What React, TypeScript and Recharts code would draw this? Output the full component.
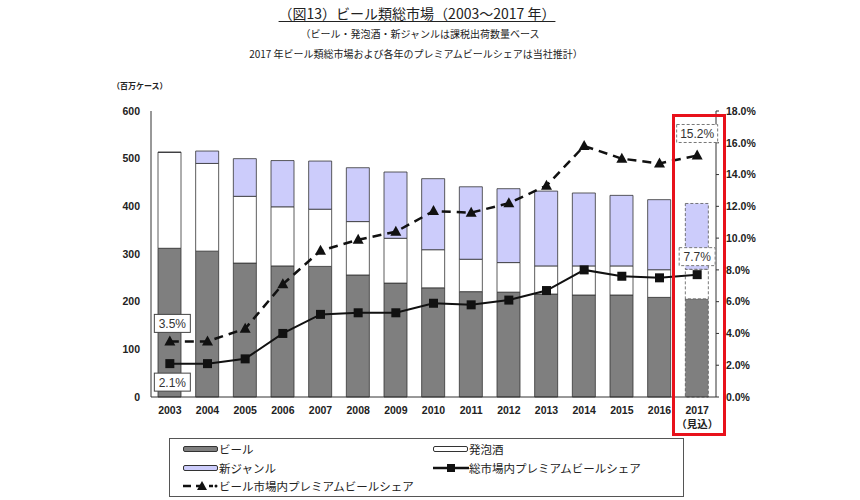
import React from 'react';
import {
  ComposedChart,
  Bar,
  Line,
  XAxis,
  YAxis,
  Cell,
  LabelList,
} from 'recharts';

const years = ['2003', '2004', '2005', '2006', '2007', '2008', '2009', '2010', '2011', '2012', '2013', '2014', '2015', '2016', '2017'];
const beer = [312, 306, 281, 275, 274, 256, 239, 229, 221, 220, 216, 214, 214, 209, 206];
const happoshu = [201, 184, 140, 124, 120, 112, 94, 80, 68, 62, 59, 61, 61, 58, 62];
const newGenre = [1, 26, 79, 97, 101, 113, 139, 149, 152, 155, 157, 153, 148, 147, 138];
const premiumTotalShare = [2.1, 2.1, 2.4, 4.0, 5.2, 5.3, 5.3, 5.9, 5.8, 6.1, 6.7, 8.0, 7.6, 7.5, 7.7];
const premiumBeerShare = [3.5, 3.5, 4.3, 7.1, 9.2, 9.9, 10.4, 11.7, 11.6, 12.2, 13.3, 15.8, 15.0, 14.7, 15.2];
const leftTicks = [0, 100, 200, 300, 400, 500, 600];
const rightTicks = [0, 2, 4, 6, 8, 10, 12, 14, 16, 18];

const data = years.map((y, i) => ({
  year: y,
  beer: beer[i],
  happoshu: happoshu[i],
  newGenre: newGenre[i],
  total: premiumTotalShare[i],
  beerShare: premiumBeerShare[i],
}));

const FONT = '"Liberation Sans", Arial, "Noto Sans CJK JP", sans-serif';
const JP = '"Noto Sans CJK JP", "Liberation Sans", sans-serif';
const LAST = years.length - 1;

const BeerTick = (props: any) => {
  const { x, y, payload } = props;
  const isEst = payload.value === '2017';
  return (
    <g>
      <text x={x} y={y + 9} textAnchor="middle" fontSize={10.5} fontWeight="bold" fill="#222" fontFamily={FONT}>
        {payload.value}
      </text>
      {isEst && (
        <text x={x} y={y + 23} textAnchor="middle" fontSize={10.5} fontWeight="bold" fill="#222" fontFamily={JP}>
          （見込）
        </text>
      )}
    </g>
  );
};

const SquareDot = (props: any) => {
  const { cx, cy, index } = props;
  return <rect key={'sq' + index} x={cx - 4.5} y={cy - 4.5} width={9} height={9} fill="#111" />;
};

const TriangleDot = (props: any) => {
  const { cx, cy, index } = props;
  return (
    <path
      key={'tr' + index}
      d={`M${cx},${cy - 6} L${cx + 5.5},${cy + 4} L${cx - 5.5},${cy + 4} Z`}
      fill="#111"
    />
  );
};

function makeLabel(first: number, last: number) {
  return (props: any) => {
    const { x, y, value, index } = props;
    if (index !== 0 && index !== LAST) return null;
    const dy = index === 0 ? first : last;
    const text = Number(value).toFixed(1) + '%';
    const w = index === LAST && value > 10 ? 41 : 36;
    const h = 18;
    const cx = index === 0 ? x + 2.5 : x;
    const cy = y + dy;
    return (
      <g key={'lb' + index}>
        <rect
          x={cx - w / 2}
          y={cy - h / 2}
          width={w}
          height={h}
          fill="#fff"
          stroke={index === LAST ? '#777' : '#444'}
          strokeWidth={1}
          strokeDasharray={index === LAST ? '3 2' : undefined}
        />
        <text x={cx} y={cy + 4.5} textAnchor="middle" fontSize={12} fill="#333" fontFamily={FONT}>
          {text}
        </text>
      </g>
    );
  };
}

const LegendBarSwatch = ({ fill }: { fill: string }) => (
  <svg width={36} height={8} style={{ display: 'block' }}>
    <rect x={0.5} y={1.5} width={34} height={5} rx={1.5} fill={fill} stroke="#333" strokeWidth={1} />
  </svg>
);

const LegendLineSwatch = ({ dashed }: { dashed?: boolean }) => (
  <svg width={36} height={12} style={{ display: 'block' }}>
    <line x1={0} y1={6} x2={dashed ? 30 : 36} y2={6} stroke="#111" strokeWidth={2.5} strokeDasharray={dashed ? '8 5' : undefined} />
    {dashed ? (
      <path d="M19,1 L24,10 L14,10 Z" fill="#111" />
    ) : (
      <rect x={14} y={2} width={8} height={8} fill="#111" />
    )}
    {dashed && <circle cx={33} cy={6} r={1.5} fill="#111" />}
  </svg>
);

const legendText: React.CSSProperties = {
  fontFamily: JP,
  fontSize: 11.5,
  color: '#222',
  lineHeight: '14px',
};

export default function App() {
  return (
    <div style={{ position: 'absolute', left: 0, top: 0, width: 860, height: 500, background: '#fff', overflow: 'hidden' }}>
      <div
        style={{
          position: 'absolute',
          left: 0,
          top: 3,
          width: 834,
          textAlign: 'center',
          fontFamily: JP,
          fontSize: 14,
          color: '#222',
        }}
      >
        <span style={{ textDecoration: 'underline', textUnderlineOffset: 2 }}>（図13）ビール類総市場（2003〜2017 年）</span>
      </div>
      <div style={{ position: 'absolute', left: 0, top: 26, width: 840, textAlign: 'center', fontFamily: JP, fontSize: 10, color: '#222' }}>
        （ビール・発泡酒・新ジャンルは課税出荷数量ベース
      </div>
      <div style={{ position: 'absolute', left: 0, top: 46, width: 832, textAlign: 'center', fontFamily: JP, fontSize: 10, color: '#222' }}>
        2017 年ビール類総市場および各年のプレミアムビールシェアは当社推計）
      </div>
      <div style={{ position: 'absolute', left: 112, top: 80, fontFamily: JP, fontSize: 8, fontWeight: 'bold', color: '#222' }}>
        （百万ケース）
      </div>

      <ComposedChart
        width={860}
        height={500}
        data={data}
        margin={{ top: 111, right: 104, bottom: 73, left: 111 }}
        barSize={23}
      >
        <XAxis
          dataKey="year"
          tickLine={false}
          axisLine={{ stroke: '#333', strokeWidth: 1 }}
          height={30}
          interval={0}
          tick={<BeerTick />}
        />
        <YAxis
          yAxisId="left"
          orientation="left"
          width={40}
          domain={[0, 600]}
          ticks={leftTicks}
          tickLine={false}
          tickMargin={5}
          axisLine={{ stroke: '#333', strokeWidth: 1 }}
          tick={{ fontSize: 10.5, fontWeight: 'bold', fill: '#222', fontFamily: FONT }}
        />
        <YAxis
          yAxisId="right"
          orientation="right"
          width={40}
          domain={[0, 18]}
          ticks={rightTicks}
          tickSize={3}
          tickMargin={7}
          tickLine={{ stroke: '#333' }}
          axisLine={{ stroke: '#333', strokeWidth: 1 }}
          tickFormatter={(v: number) => v.toFixed(1) + '%'}
          tick={{ fontSize: 10.5, fontWeight: 'bold', fill: '#222', fontFamily: FONT }}
        />
        <Bar yAxisId="left" dataKey="beer" stackId="s" fill="#7f7f7f" stroke="#333" strokeWidth={0.8} isAnimationActive={false}>
          {data.map((d, i) => (
            <Cell
              key={'b' + i}
              stroke={i === LAST ? '#555' : '#333'}
              strokeDasharray={i === LAST ? '3 2' : undefined}
            />
          ))}
        </Bar>
        <Bar yAxisId="left" dataKey="happoshu" stackId="s" fill="#ffffff" stroke="#333" strokeWidth={0.8} isAnimationActive={false}>
          {data.map((d, i) => (
            <Cell
              key={'h' + i}
              stroke={i === LAST ? '#555' : '#333'}
              strokeDasharray={i === LAST ? '3 2' : undefined}
            />
          ))}
        </Bar>
        <Bar yAxisId="left" dataKey="newGenre" stackId="s" fill="#ccccfb" stroke="#333" strokeWidth={0.8} isAnimationActive={false}>
          {data.map((d, i) => (
            <Cell
              key={'n' + i}
              stroke={i === LAST ? '#555' : '#333'}
              strokeDasharray={i === LAST ? '3 2' : undefined}
            />
          ))}
        </Bar>
        <Line
          yAxisId="right"
          dataKey="beerShare"
          stroke="#111"
          strokeWidth={2.5}
          strokeDasharray="9 6"
          dot={TriangleDot}
          activeDot={false}
          isAnimationActive={false}
        >
          <LabelList dataKey="beerShare" content={makeLabel(-18, -22)} />
        </Line>
        <Line
          yAxisId="right"
          dataKey="total"
          stroke="#111"
          strokeWidth={2}
          dot={SquareDot}
          activeDot={false}
          isAnimationActive={false}
        >
          <LabelList dataKey="total" content={makeLabel(18.5, -18)} />
        </Line>
      </ComposedChart>

      <div
        style={{
          position: 'absolute',
          left: 672,
          top: 114,
          width: 48,
          height: 316,
          border: '3.5px solid #e8111b',
        }}
      />

      <div
        style={{
          position: 'absolute',
          left: 169,
          top: 438,
          width: 513,
          height: 57,
          border: '1px solid #555',
          background: '#fff',
        }}
      >
        <div style={{ position: 'absolute', left: 13, top: 3, display: 'flex', alignItems: 'center' }}>
          <LegendBarSwatch fill="#7f7f7f" />
          <span style={legendText}>ビール</span>
        </div>
        <div style={{ position: 'absolute', left: 263, top: 3, display: 'flex', alignItems: 'center' }}>
          <LegendBarSwatch fill="#ffffff" />
          <span style={legendText}>発泡酒</span>
        </div>
        <div style={{ position: 'absolute', left: 13, top: 22, display: 'flex', alignItems: 'center' }}>
          <LegendBarSwatch fill="#ccccfb" />
          <span style={legendText}>新ジャンル</span>
        </div>
        <div style={{ position: 'absolute', left: 263, top: 22, display: 'flex', alignItems: 'center' }}>
          <LegendLineSwatch />
          <span style={legendText}>総市場内プレミアムビールシェア</span>
        </div>
        <div style={{ position: 'absolute', left: 13, top: 40, display: 'flex', alignItems: 'center' }}>
          <LegendLineSwatch dashed />
          <span style={legendText}>ビール市場内プレミアムビールシェア</span>
        </div>
      </div>
    </div>
  );
}
